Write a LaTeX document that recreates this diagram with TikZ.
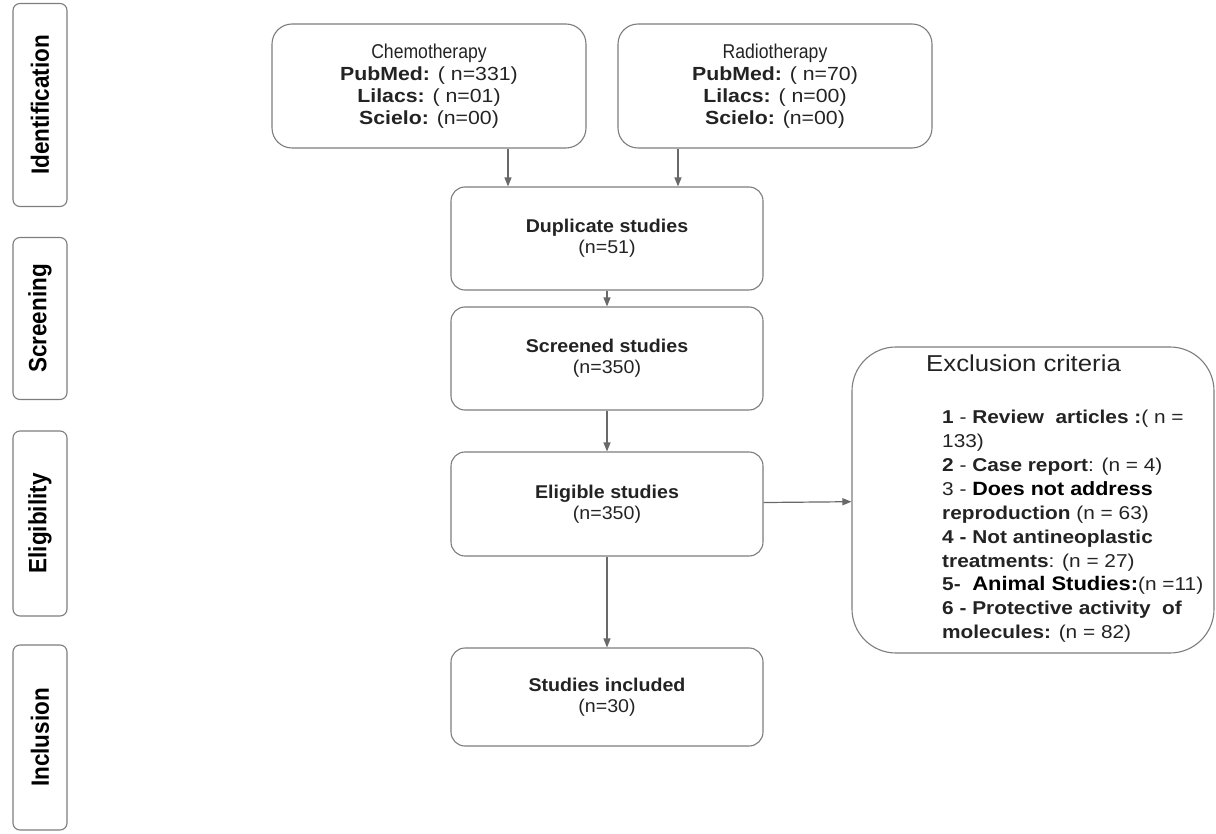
\documentclass[tikz,border=0pt]{standalone}
\usepackage{fontspec}
\setmainfont{Liberation Sans}[FakeStretch=1.12]
\newfontfamily\phasefont{Liberation Sans}[FakeStretch=0.9]
\newfontfamily\stepfont{Liberation Sans}[FakeStretch=1.06]
\newfontfamily\narrowfont{Liberation Sans}[FakeStretch=0.88]
\usetikzlibrary{arrows.meta}
\definecolor{boxgray}{RGB}{125,125,125}
\definecolor{arrowgray}{RGB}{105,105,105}
\definecolor{inkgray}{RGB}{35,35,35}

\begin{document}
\begin{tikzpicture}[x=1pt, y=-1pt,
    phasebox/.style={draw=boxgray, line width=1.1pt, rounded corners=7pt, rotate=90,
        minimum height=54pt, inner sep=0pt, font=\phasefont\fontsize{25}{28}\bfseries},
    srcbox/.style={draw=boxgray, line width=1.1pt, rounded corners=20pt, align=center,
        minimum width=314pt, minimum height=124pt, text=inkgray, font=\fontsize{19}{22}\selectfont},
    stepbox/.style={draw=boxgray, line width=1.1pt, rounded corners=14pt, align=center,
        minimum width=312pt, text=inkgray, font=\stepfont\fontsize{18.5}{21}\selectfont},
    arrow/.style={draw=arrowgray, line width=1.2pt, -{Triangle[length=9pt, width=7pt]}}
]
    \useasboundingbox (0,0) rectangle (1216,834);

    % phases on the left
    \node[phasebox, minimum width=203pt] (phaseId)   at (40,105)   {Identification};
    \node[phasebox, minimum width=162pt] (phaseScr)  at (40,318.5) {Screening};
    \node[phasebox, minimum width=185pt] (phaseElig) at (40,523.5) {Eligibility};
    \node[phasebox, minimum width=185pt] (phaseIncl) at (40,737.5) {Inclusion};

    % sources
    \node[srcbox] (chemo) at (429,86) {{\narrowfont\fontsize{20}{22}\selectfont Chemotherapy}\\ \textbf{PubMed:} ( n=331)\\ \textbf{Lilacs:} ( n=01)\\ \textbf{Scielo:} (n=00)};
    \node[srcbox] (radio) at (775,86) {{\narrowfont\fontsize{20}{22}\selectfont Radiotherapy}\\ \textbf{PubMed:} ( n=70)\\ \textbf{Lilacs:} ( n=00)\\ \textbf{Scielo:} (n=00)};

    % main steps
    \node[stepbox, minimum height=103pt] (dup)      at (607,238.5) {\textbf{Duplicate studies}\\(n=51)};
    \node[stepbox, minimum height=103pt] (screened) at (607,358.5) {\textbf{Screened studies}\\(n=350)};
    \node[stepbox, minimum height=104pt] (eligible) at (607,504)   {\textbf{Eligible studies}\\(n=350)};
    \node[stepbox, minimum height=98pt]  (included) at (607,697)   {\textbf{Studies included}\\(n=30)};

    % exclusion criteria
    \node[draw=boxgray, line width=1.1pt, rounded corners=44pt, minimum width=362pt, minimum height=306pt] (exclusion) at (1033,500) {};
    \node[anchor=base west, inner sep=0pt, text=inkgray, font=\fontsize{23}{24}\selectfont] (extitle) at (926,371) {Exclusion criteria};
    \node[anchor=north west, inner sep=0pt, align=left, text=inkgray, font=\fontsize{18.6}{23.9}\selectfont] (exlist) at (942,410) {%
        \textbf{1} - \textbf{Review\ \ articles :}( n =\\
        133)\\
        \textbf{2} - \textbf{Case report}: (n = 4)\\
        3 - {\fontsize{19.2}{23.9}\selectfont\textbf{\color{black}Does not address}}\\
        \textbf{reproduction} (n = 63)\\
        \textbf{4 - Not antineoplastic}\\
        \textbf{treatments}: (n = 27)\\
        \textbf{5-}\ \ {\fontsize{19.6}{23.9}\selectfont\textbf{\color{black}Animal Studies:}}(n =11)\\
        \textbf{6 - Protective activity\ \ of}\\
        \textbf{molecules:} (n = 82)};

    \coordinate (inChemo) at ([xshift=-99pt]dup.north);
    \coordinate (inRadio) at ([xshift=71pt]dup.north);

    \draw[arrow] (chemo.south -| inChemo) -- (inChemo);
    \draw[arrow] (radio.south -| inRadio) -- (inRadio);
    \draw[arrow] (dup) -- (screened);
    \draw[arrow] (screened) -- (eligible);
    \draw[arrow] (eligible) -- (included);
    \draw[arrow] (eligible) -- (exclusion);
\end{tikzpicture}
\end{document}
